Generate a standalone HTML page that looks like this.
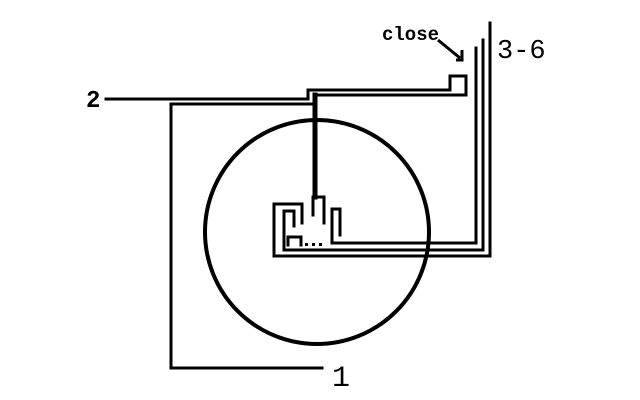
<!DOCTYPE html>
<html><head><style>
html,body{margin:0;padding:0;background:#fff;width:640px;height:400px;overflow:hidden}
svg{display:block}
</style></head><body>
<svg width="640" height="400" viewBox="0 0 640 400" xmlns="http://www.w3.org/2000/svg">
<g fill="none" stroke="#000" stroke-width="3" stroke-linejoin="miter" stroke-linecap="square">
<circle cx="317" cy="232" r="112" stroke-width="4"/>
<polyline points="106,99 308,99 308,90 450,90 450,76 466,76 466,95 315,95"/>
<polyline points="322,368 171,368 171,104 313,104"/>
<line x1="315" y1="95" x2="315" y2="197" stroke-width="5"/>
<polyline points="313,197 324,197 324,223"/>
<line x1="313" y1="197" x2="313" y2="215"/>
<polyline points="490,23 490,256 274,256 274,204 302,204 302,223"/>
<polyline points="483,40 483,250 284,250 284,211 294,211 294,226"/>
<polyline points="476,48 476,243 332,243 332,209 340,209 340,235"/>
<polyline points="288,245 288,237 301,237 301,245"/>
</g>
<g fill="#000">
<rect x="305" y="243" width="3" height="3"/>
<rect x="312" y="243" width="3" height="3"/>
<rect x="319" y="243" width="3" height="3"/>
</g>
<g stroke="#000" stroke-width="3" fill="none">
<line x1="438" y1="40" x2="460" y2="58"/>
<polyline points="462,50 462,60 456,60"/>
</g>
<g font-family="Liberation Mono, monospace" fill="#000">
<text x="86" y="107" font-size="24" font-weight="bold">2</text>
<text x="332" y="386" font-size="30">1</text>
<text x="497" y="58" font-size="27">3-6</text>
<text x="382" y="40" font-size="19" font-weight="bold">close</text>
</g>
</svg>
</body></html>
